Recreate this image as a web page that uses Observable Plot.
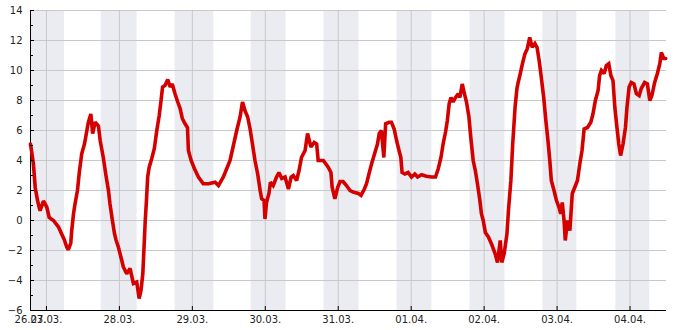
<!DOCTYPE html>
<html><head><meta charset="utf-8">
<script src="https://cdn.jsdelivr.net/npm/d3@7"></script>
<script src="https://cdn.jsdelivr.net/npm/@observablehq/plot@0.6"></script>
<style>html,body{margin:0;padding:0;background:#fff}</style>
</head><body><div id="chart"></div>
<script>
// Hours since 27.03. 00:00 (UTC) and temperature in °C
const hours = [
  -5.25, -4.3, -3.7, -2.9, -2.1, -1.0,
  0.1, 0.9, 2.3, 4.0, 5.0, 5.9, 6.7, 7.2, 8.0, 8.3, 8.9, 9.4, 10.2, 10.8, 11.6, 12.5, 13.3, 13.8, 14.6, 15.2, 16.0, 17.1, 17.7, 18.7, 19.5, 20.4, 20.9, 21.7, 22.4, 22.9, 23.7,
  24.7, 25.3, 26.4, 27.5, 28.6, 29.7, 30.5, 31.1, 31.7, 32.1, 32.5, 32.9, 33.3, 33.8, 34.6, 35.5, 36.3, 37.1, 37.7, 38.2, 39.0, 39.9, 40.7, 41.4, 42.3, 43.2, 44.0, 44.7, 45.6, 46.4, 46.7, 47.6,
  48.7, 50.0, 51.6, 53.3, 55.5, 56.6, 58.2, 59.3, 60.4, 61.5, 62.6, 63.7, 64.5, 65.3, 66.2, 67.0, 67.7, 68.6, 69.5, 70.3, 70.8, 71.6, 71.9,
  72.4, 73.2, 73.7, 74.6, 75.7, 76.5, 77.4, 78.5, 79.6, 80.5, 81.2, 82.3, 83.1, 83.9, 85.1, 85.9, 87.0, 88.1, 88.9, 89.4, 91.1, 92.7, 93.6, 94.0, 94.9, 95.8,
  96.6, 97.6, 98.7, 99.9, 100.9, 102.6, 103.5, 104.6, 105.3, 106.1, 107.0, 108.1, 108.9, 109.5, 110.2, 111.0, 111.6, 112.7, 113.5, 114.4, 115.2, 116.0, 116.6, 117.0, 117.9, 119.0,
  120.1, 121.2, 122.1, 123.4, 125.0, 126.7, 128.0, 128.9, 129.8, 130.5, 131.3, 131.9, 132.5, 133.1, 133.8, 134.6, 135.5, 136.0, 136.8, 137.4, 138.2, 139.0, 139.6, 140.4, 141.1, 141.8, 142.6, 143.1,
  143.7, 144.4, 145.4, 146.5, 147.6, 148.4, 149.3, 149.8, 150.6, 151.5, 152.0, 152.8, 153.4, 154.2, 154.8, 155.2, 155.9, 156.6, 157.4, 158.2, 159.0, 159.8, 160.7, 161.4, 162.1, 162.8, 163.6, 164.3, 165.0, 165.6, 166.1, 167.0,
  167.8, 168.6, 169.2, 169.7, 170.3, 170.7, 171.4, 172.2, 173.0, 173.8, 174.7, 175.5, 176.2, 176.9, 178.0, 179.1, 179.8, 180.6, 181.5, 182.0, 182.6, 183.5, 184.2, 185.0, 185.7, 186.4, 187.0, 187.7, 188.3, 188.9, 189.7, 190.5, 191.0,
  191.7, 192.4, 193.3, 194.1, 195.0, 195.7, 196.8, 197.7, 198.5, 199.2, 200.1, 201.0, 201.8, 202.3, 203.1, 203.75
];
const tempC = [
  5.1, 3.8, 2.2, 1.3, 0.65, 1.3,
  0.9, 0.2, 0.0, -0.45, -0.9, -1.3, -1.8, -1.95, -1.5, -0.7, 0.45, 1.1, 2.0, 3.2, 4.45, 5.1, 6.0, 6.55, 7.1, 5.8, 6.55, 6.3, 5.3, 4.2, 3.1, 2.0, 1.1, 0.0, -0.9, -1.3, -1.8,
  -2.6, -3.1, -3.55, -3.2, -4.2, -4.1, -5.2, -4.67, -3.55, -1.8, 0.0, 1.33, 2.9, 3.55, 4.1, 4.8, 6.0, 7.0, 8.0, 8.9, 9.0, 9.4, 8.9, 9.1, 8.45, 7.9, 7.45, 6.8, 6.45, 6.2, 4.67, 4.0,
  3.45, 2.9, 2.45, 2.45, 2.55, 2.33, 2.9, 3.45, 4.0, 5.0, 6.0, 6.9, 7.9, 7.33, 6.9, 6.1, 5.2, 4.0, 3.1, 2.0, 1.45, 1.33, 0.1,
  1.2, 1.8, 2.55, 2.33, 2.9, 3.2, 2.8, 2.9, 2.1, 2.9, 3.0, 2.67, 3.33, 4.2, 4.67, 5.8, 4.9, 5.2, 5.1, 4.0, 4.0, 3.55, 3.2, 2.2, 1.45, 2.2,
  2.6, 2.6, 2.33, 2.0, 1.9, 1.8, 1.67, 2.1, 2.45, 3.1, 3.8, 4.55, 5.1, 5.8, 6.0, 4.2, 6.45, 6.55, 6.55, 6.1, 5.33, 4.67, 4.2, 3.2, 3.1, 3.2,
  2.9, 3.1, 2.9, 3.05, 2.95, 2.9, 2.9, 3.45, 4.2, 5.1, 5.9, 6.67, 7.8, 8.2, 7.9, 8.2, 8.45, 8.2, 9.1, 8.55, 7.9, 6.9, 5.55, 4.0, 3.33, 2.45, 1.33, 0.45,
  0.0, -0.8, -1.1, -1.6, -2.2, -2.8, -1.33, -2.8, -2.2, -0.9, 0.67, 2.67, 5.1, 7.6, 8.8, 9.2, 9.8, 10.45, 11.1, 11.45, 12.2, 11.55, 11.8, 11.55, 10.67, 9.55, 8.2, 6.67, 5.33, 4.0, 2.67, 2.0,
  1.33, 0.9, 0.45, 1.2, 0.0, -1.33, 0.0, -0.67, 1.8, 2.2, 2.67, 3.8, 4.67, 6.1, 6.2, 6.55, 7.1, 8.0, 8.67, 9.67, 10.0, 9.8, 10.33, 10.45, 9.67, 9.33, 7.55, 6.2, 5.1, 4.33, 5.1, 6.2, 7.55,
  8.9, 9.2, 9.1, 8.45, 8.33, 8.8, 9.2, 9.1, 8.0, 8.33, 9.2, 9.8, 10.45, 11.2, 10.8, 10.8
];
// Night periods (shaded bands)
const nightStart = ["2020-03-26T18:45Z","2020-03-27T18:00Z","2020-03-28T18:20Z","2020-03-29T19:20Z","2020-03-30T19:20Z","2020-03-31T19:20Z","2020-04-01T19:20Z","2020-04-02T19:20Z","2020-04-03T19:20Z"];
const nightEnd   = ["2020-03-27T05:55Z","2020-03-28T05:50Z","2020-03-29T07:05Z","2020-03-30T06:50Z","2020-03-31T06:50Z","2020-04-01T06:50Z","2020-04-02T06:50Z","2020-04-03T06:30Z","2020-04-04T06:30Z"];
// Axis ticks
const dayTickTimes = ["2020-03-26T18:45Z","2020-03-27T00:00Z","2020-03-28T00:00Z","2020-03-29T00:00Z","2020-03-30T00:00Z","2020-03-31T00:00Z","2020-04-01T00:00Z","2020-04-02T00:00Z","2020-04-03T00:00Z","2020-04-04T00:00Z"];
const dayTickLabels = ["26.03.","27.03.","28.03.","29.03.","30.03.","31.03.","01.04.","02.04.","03.04.","04.04."];
const yMajor = [-6,-4,-2,0,2,4,6,8,10,12,14];
const yMinor = [-5,-3,-1,1,3,5,7,9,11,13];
const xDomain = ["2020-03-26T18:45Z","2020-04-04T12:00Z"];

const base = Date.UTC(2020, 2, 27);
const data = hours.map((h, i) => ({t: new Date(base + h * 3600e3), v: tempC[i]}));
const nights = nightStart.map((s, i) => ({s: new Date(s), e: new Date(nightEnd[i])}));
const dayTicks = dayTickTimes.map(d => new Date(d));
const fmt = d => dayTickLabels[dayTicks.findIndex(t => +t === +d)];
const start = new Date(xDomain[0]);

const chart = Plot.plot({
  width: 685, height: 330,
  marginLeft: 30, marginRight: 19, marginTop: 10, marginBottom: 20,
  style: {fontFamily: "DejaVu Sans", fontSize: "10px", color: "#222", background: "#fff", overflow: "visible"},
  x: {type: "utc", domain: xDomain.map(d => new Date(d)), label: null},
  y: {domain: [-6, 14], label: null},
  marks: [
    Plot.ruleY([0], {stroke: "#000"}),
    Plot.rect(nights, {x1: "s", x2: "e", fill: "#e1e3eb", fillOpacity: 0.67}),
    Plot.gridY(yMajor, {stroke: "#c8c8c8", strokeOpacity: 1}),
    Plot.gridX(dayTicks.slice(1), {stroke: "#c8c8c8", strokeOpacity: 1}),
    Plot.ruleX([start], {stroke: "#000"}),
    Plot.ruleY([-6], {stroke: "#000"}),
    Plot.line(data, {x: "t", y: "v", stroke: "#d40000", strokeWidth: 3.6, strokeLinejoin: "miter", strokeMiterlimit: 2}),
    Plot.axisY(yMajor, {tickSize: 0, tickPadding: 8, label: null}),
    Plot.axisY(yMajor, {tickSize: -4, text: null, label: null, stroke: "#000"}),
    Plot.axisY(yMinor, {tickSize: -3, text: null, label: null, stroke: "#000"}),
    Plot.axisX(dayTicks, {tickSize: 0, tickPadding: 5, tickFormat: fmt, label: null}),
    Plot.axisX(dayTicks.slice(1), {tickSize: -4, text: null, label: null, stroke: "#000"})
  ]
});
document.getElementById("chart").appendChild(chart);
</script>
</body></html>
